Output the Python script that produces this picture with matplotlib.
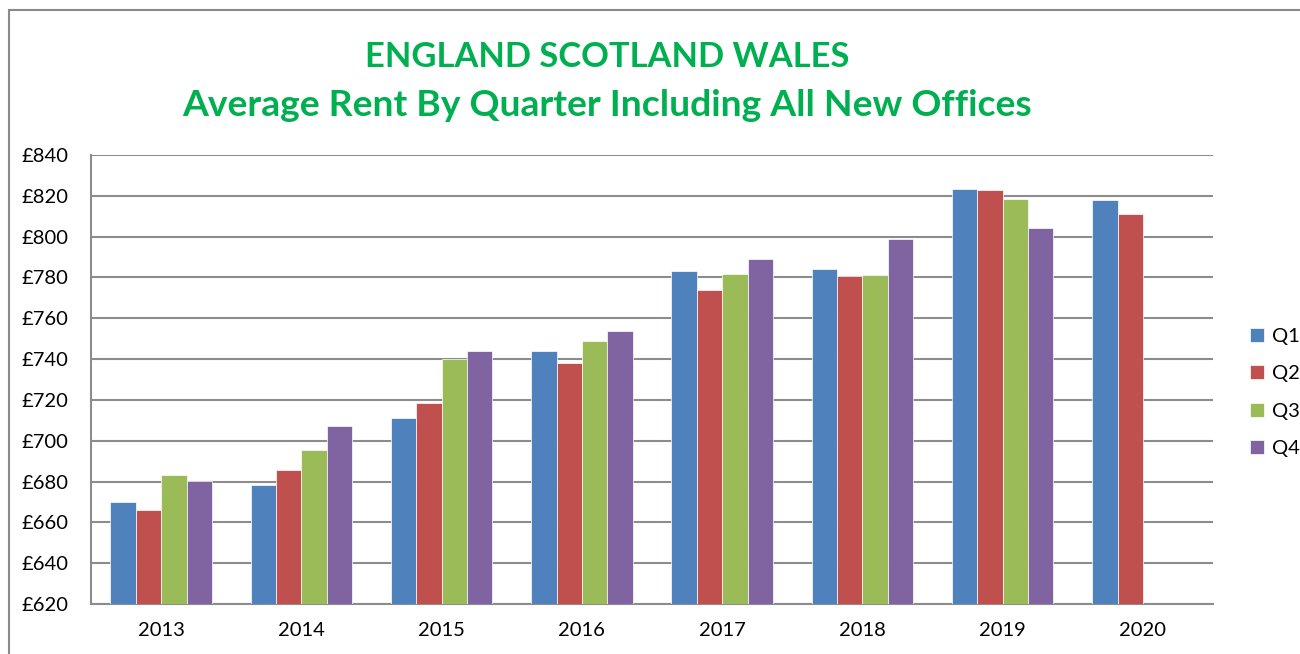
import matplotlib
matplotlib.use("Agg")
import matplotlib.pyplot as plt
import matplotlib.patches as mpatches
import numpy as np

# ── Data ──────────────────────────────────────────────────────────────────────
years = ["2013", "2014", "2015", "2016", "2017", "2018", "2019", "2020"]
q1 = [670, 678.5, 711, 744, 783, 784, 823.5, 818]
q2 = [666, 685.5, 718.5, 738, 774, 780.5, 823, 811]
q3 = [683, 695.5, 740, 749, 781.5, 781, 818.5, None]
q4 = [680.5, 707, 744, 754, 789, 799, 804, None]
quarters = ["Q1", "Q2", "Q3", "Q4"]
y_ticks = list(range(620, 841, 20))

# ── Style ─────────────────────────────────────────────────────────────────────
COLORS = ["#4F81BD", "#C0504D", "#9BBB59", "#8064A2"]
GRID   = "#8c8c8c"
GREEN  = "#00B050"
FONT   = "Lato"

plt.rcParams["font.family"] = [FONT, "DejaVu Sans"]

fig = plt.figure(figsize=(13, 6.54), dpi=100, facecolor="white")
ax = fig.add_axes([0.07, 0.0765, 0.8631, 0.6865])

# outer chart frame
fig.patches.append(mpatches.Rectangle(
    (9 / 1300, -0.01), 1.02, 1 - 10 / 654 + 0.01,
    transform=fig.transFigure, fill=False, edgecolor="#8a8a8a", lw=1.5))

x = np.arange(len(years))
width = 0.181
for i, (series, color) in enumerate(zip([q1, q2, q3, q4], COLORS)):
    xs = [xi + (i - 1.5) * width for xi, v in zip(x, series) if v is not None]
    vals = [v - 620 for v in series if v is not None]
    ax.bar(xs, vals, width=width, bottom=620, color=color,
           edgecolor="white", linewidth=0.5, zorder=3, label=quarters[i])

ax.set_xlim(-0.5, len(years) - 0.5)
ax.set_ylim(620, 840)
ax.set_yticks(y_ticks)
ax.set_yticklabels([f"£{v}" for v in y_ticks])
ax.set_xticks(x)
ax.set_xticklabels(years)
ax.tick_params(axis="both", length=0, labelsize=14.5, colors="black")
ax.tick_params(axis="y", pad=16)
ax.tick_params(axis="x", pad=13)

ax.grid(axis="y", color=GRID, linewidth=1.5, zorder=0)
for side in ["top", "right"]:
    ax.spines[side].set_visible(False)
for side in ["left", "bottom"]:
    ax.spines[side].set_color(GRID)
    ax.spines[side].set_linewidth(1.5)

leg = fig.legend(loc="upper left", bbox_to_anchor=(1242 / 1300, 1 - 320 / 654),
                 frameon=False, fontsize=14.5, handlelength=0.7, handleheight=0.7,
                 handletextpad=0.4, labelspacing=1.0, borderaxespad=0)

fig.text(0.467, 1 - 57 / 654, "ENGLAND SCOTLAND WALES", color=GREEN,
         fontsize=24.8, fontweight="bold", ha="center", va="center")
fig.text(0.467, 1 - 106 / 654, "Average Rent By Quarter Including All New Offices",
         color=GREEN, fontsize=26.8, fontweight="bold", ha="center", va="center")

fig.savefig("out.png", dpi=100, facecolor="white")
